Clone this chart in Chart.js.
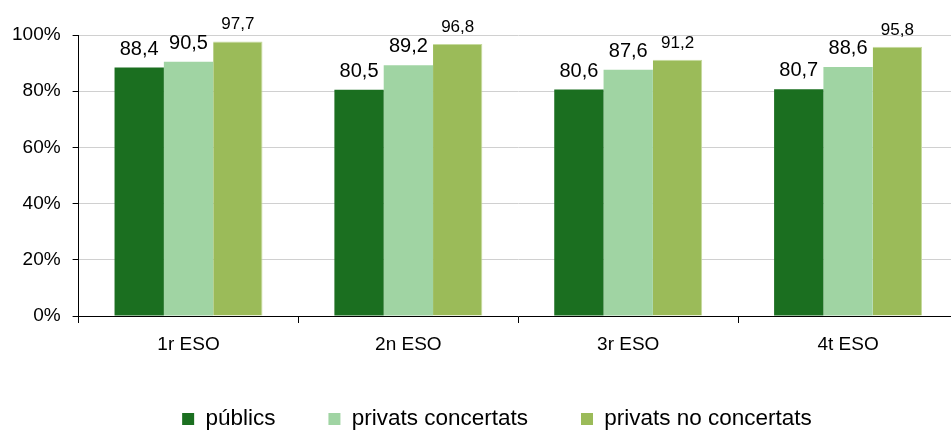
<!DOCTYPE html>
<html>
<head>
<meta charset="utf-8">
<script src="https://cdn.jsdelivr.net/npm/chart.js@4/dist/chart.umd.min.js"></script>
<style>
  html, body { margin: 0; padding: 0; background: #fff; overflow: hidden; }
  #wrap { width: 958px; height: 431px; }
</style>
</head>
<body>
<div id="wrap"><canvas id="escolaChart"></canvas></div>
<script>
// dades
const cursos = ['1r ESO', '2n ESO', '3r ESO', '4t ESO'];
const publics = [88.4, 80.5, 80.6, 80.7];
const privatsConcertats = [90.5, 89.2, 87.6, 88.6];
const privatsNoConcertats = [97.7, 96.8, 91.2, 95.8];
const yTicks = [0, 20, 40, 60, 80, 100];

const FONT = "'Liberation Sans', Arial, sans-serif";

// etiquetes de valor damunt de cada barra
const valueLabels = {
  id: 'valueLabels',
  afterDatasetsDraw(chart) {
    const ctx = chart.ctx;
    ctx.save();
    ctx.fillStyle = '#000';
    ctx.textAlign = 'center';
    ctx.textBaseline = 'alphabetic';
    chart.data.datasets.forEach((ds, i) => {
      const meta = chart.getDatasetMeta(i);
      const small = i === 2;
      ctx.font = (small ? '17px ' : '20px ') + FONT;
      meta.data.forEach((bar, j) => {
        const txt = ds.data[j].toFixed(1).replace('.', ',');
        ctx.fillText(txt, bar.x, bar.y - (small ? 12 : 13));
      });
    });
    ctx.restore();
  }
};

// llegenda: alçada fixa i recol·locada a baix
const moveLegend = {
  id: 'moveLegend',
  beforeLayout(chart) {
    const lg = chart.legend;
    if (lg && !lg._fitFixed) {
      const fit = lg.fit;
      lg.fit = function() { fit.call(this); this.height = 40; };
      lg._fitFixed = true;
    }
  },
  afterLayout(chart) {
    const lg = chart.legend;
    const dx = 497 - (lg.left + lg.right) / 2;
    lg.left += dx; lg.right += dx;
    lg.top = 354.75;
    lg.bottom = chart.height;
    lg.height = lg.bottom - lg.top;
  }
};

const ctx = document.getElementById('escolaChart').getContext('2d');
const chart = new Chart(ctx, {
  type: 'bar',
  data: {
    labels: cursos,
    datasets: [
      { label: 'públics', data: publics, backgroundColor: '#1b6f20' },
      { label: 'privats concertats', data: privatsConcertats, backgroundColor: '#a0d4a3' },
      { label: 'privats no concertats', data: privatsNoConcertats, backgroundColor: '#9bbb59',
        borderColor: '#c6da9e', borderWidth: { top: 1, left: 0, right: 1, bottom: 0 } }
    ]
  },
  options: {
    responsive: true,
    maintainAspectRatio: false,
    animation: false,
    devicePixelRatio: 1,
    layout: { padding: { top: 35, left: 0, right: 0, bottom: 0 } },
    datasets: {
      bar: { categoryPercentage: 0.673, barPercentage: 1, borderWidth: 0 }
    },
    scales: {
      x: {
        grid: { display: true, drawOnChartArea: false, drawTicks: true, tickLength: 7, tickColor: '#000', offset: true },
        border: { display: true, color: '#000', width: 1 },
        ticks: { color: '#000', font: { family: FONT, size: 19 }, padding: 10, maxRotation: 0 },
        afterFit(scale) { scale.height = 75; }
      },
      y: {
        min: 0,
        max: 100,
        afterBuildTicks(scale) { scale.ticks = yTicks.map(v => ({ value: v })); },
        grid: { color: '#d0d0d0', lineWidth: 1, tickLength: 6, tickColor: '#000' },
        border: { display: true, color: '#000', width: 1 },
        ticks: {
          color: '#000',
          font: { family: FONT, size: 19 },
          padding: 12,
          callback: v => v + '%'
        }
      }
    },
    plugins: {
      legend: {
        position: 'bottom',
        labels: {
          boxWidth: 12,
          boxHeight: 12,
          padding: 53,
          color: '#000',
          font: { family: FONT, size: 22.5 },
          generateLabels(ch) {
            return ch.data.datasets.map((ds, i) => ({
              text: ds.label,
              fillStyle: ds.backgroundColor,
              strokeStyle: ds.backgroundColor,
              lineWidth: 0,
              fontColor: '#000',
              hidden: false,
              datasetIndex: i
            }));
          }
        }
      },
      tooltip: { enabled: false }
    }
  },
  plugins: [valueLabels, moveLegend]
});
</script>
</body>
</html>
